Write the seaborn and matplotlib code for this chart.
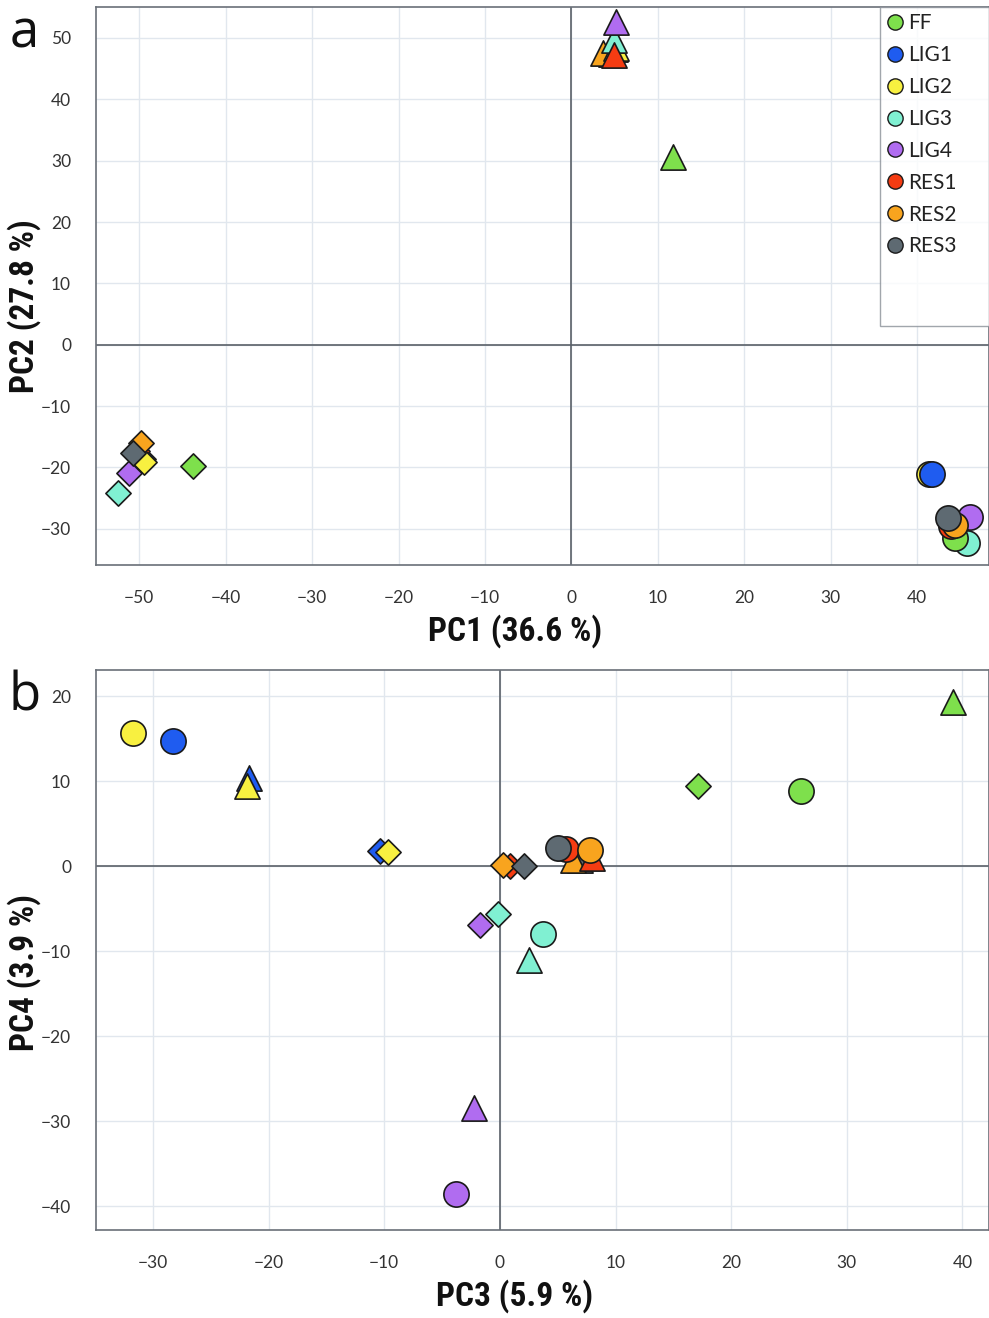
import numpy as np
import pandas as pd
import matplotlib
matplotlib.use("Agg")
import matplotlib.pyplot as plt
from matplotlib import font_manager
from matplotlib.lines import Line2D
import seaborn as sns

# groups and colours
groups = ["FF", "LIG1", "LIG2", "LIG3", "LIG4", "RES1", "RES2", "RES3"]
colors = ["#7ee04c", "#1f5cf0", "#f8f040", "#80f0d2", "#b06cf0", "#f53c12", "#f8a41e", "#5e6a72"]

# scores per shape (diamond / triangle / circle), one value per group
pc1_diamond = [-43.75, -49.6, -49.4, -52.4, -51.2, -50.3, -49.8, -50.7]
pc2_diamond = [-19.8, -18.6, -19.1, -24.1, -20.9, -17.3, -16.0, -17.6]
pc3_diamond = [17.1, -10.4, -9.7, -0.2, -1.7, 0.9, 0.3, 2.1]
pc4_diamond = [9.4, 1.8, 1.6, -5.6, -6.9, 0.0, 0.1, 0.0]

pc1_triangle = [11.7, 5.0, 5.1, 4.9, 5.2, 4.9, 3.7, 4.6]
pc2_triangle = [30.6, 48.2, 48.4, 49.7, 52.6, 47.3, 47.6, 47.4]
pc3_triangle = [39.2, -21.7, -21.9, 2.5, -2.2, 8.0, 6.3, 6.9]
pc4_triangle = [19.3, 10.4, 9.4, -11.1, -28.4, 0.9, 0.7, 0.7]

pc1_circle = [44.4, 41.7, 41.4, 45.8, 46.1, 43.9, 44.4, 43.6]
pc2_circle = [-31.5, -21.0, -21.0, -32.3, -28.1, -29.6, -29.3, -28.3]
pc3_circle = [26.0, -28.3, -31.7, 3.7, -3.8, 5.7, 7.8, 5.0]
pc4_circle = [8.8, 14.7, 15.6, -8.0, -38.6, 2.0, 1.9, 2.1]

# drawing order (first = bottom) within each shape
order_diamond = ["LIG1", "RES1", "LIG3", "LIG2", "LIG4", "FF", "RES2", "RES3"]
order_triangle = ["LIG1", "RES3", "FF", "RES2", "LIG2", "LIG3", "LIG4", "RES1"]
order_circle = ["LIG3", "FF", "LIG2", "LIG1", "RES1", "LIG4", "RES2", "RES3"]

frames = []
for shape, a, b, c, d, order in [
    ("diamond", pc1_diamond, pc2_diamond, pc3_diamond, pc4_diamond, order_diamond),
    ("triangle", pc1_triangle, pc2_triangle, pc3_triangle, pc4_triangle, order_triangle),
    ("circle", pc1_circle, pc2_circle, pc3_circle, pc4_circle, order_circle),
]:
    f = pd.DataFrame({"group": groups, "shape": shape,
                      "PC1": a, "PC2": b, "PC3": c, "PC4": d})
    f["rank"] = f["group"].map({g: i for i, g in enumerate(order)})
    frames.append(f.sort_values("rank"))
df = pd.concat(frames, ignore_index=True)

palette = dict(zip(groups, colors))
marker_of = {"diamond": "D", "triangle": "^", "circle": "o"}
size_of = {"diamond": 165, "triangle": 330, "circle": 330}

sns.set_theme(style="white")
names = {f.name for f in font_manager.fontManager.ttflist}
tick_font = "Lato" if "Lato" in names else "DejaVu Sans"
if "Roboto Condensed" in names:
    label_font = "Roboto Condensed"
elif "Roboto" in names:
    label_font = "Roboto"
else:
    label_font = "DejaVu Sans"
plt.rcParams["font.family"] = [tick_font, "DejaVu Sans"]

fig = plt.figure(figsize=(9.89, 13.18), dpi=100)
ax_a = fig.add_axes([96 / 989, 1 - 565 / 1318, 1 - 96 / 989, (565 - 7) / 1318])
ax_b = fig.add_axes([96 / 989, 1 - 1230 / 1318, 1 - 96 / 989, (1230 - 670) / 1318])

panels = [
    (ax_a, "PC1", "PC2", "PC1 (36.6 %)", "PC2 (27.8 %)", (-55.0, 48.3), (-35.9, 55.05),
     np.arange(-50, 50, 10), np.arange(-30, 60, 10), "a", 0.464),
    (ax_b, "PC3", "PC4", "PC3 (5.9 %)", "PC4 (3.9 %)", (-34.93, 42.3), (-42.8, 23.06),
     np.arange(-30, 50, 10), np.arange(-40, 30, 10), "b", 0.459),
]

for ax, xc, yc, xl, yl, xlim, ylim, xt, yt, letter, ylab_y in panels:
    ax.axhline(0, color="#5a6068", lw=1.2, zorder=1.5)
    ax.axvline(0, color="#5a6068", lw=1.2, zorder=1.5)
    for shape in ["diamond", "triangle", "circle"]:
        sub = df[df["shape"] == shape]
        for _, row in sub.iterrows():
            sns.scatterplot(x=[row[xc]], y=[row[yc]], color=palette[row["group"]],
                            marker=marker_of[shape], s=size_of[shape],
                            edgecolor="#1a1a1a", linewidth=1.2, legend=False,
                            ax=ax, zorder=3)
    ax.set_xlim(*xlim)
    ax.set_ylim(*ylim)
    ax.set_xticks(xt)
    ax.set_yticks(yt)
    ax.set_xticklabels([str(v).replace("-", "\u2212") for v in xt])
    ax.set_yticklabels([str(v).replace("-", "\u2212") for v in yt])
    ax.grid(True, color="#e1e7ee", lw=1.0, zorder=0)
    ax.set_axisbelow(True)
    ax.tick_params(axis="both", length=10, width=1, color="#dde3ea",
                   labelcolor="#333333", labelsize=12.5, pad=8)
    for sp in ax.spines.values():
        sp.set_color("#6a7078")
        sp.set_linewidth(1.2)
    ax.set_xlabel(xl, fontsize=24, fontweight="bold",
                  family=[label_font, "DejaVu Sans"], color="#111111", labelpad=6)
    ax.set_ylabel(yl, fontsize=24, fontweight="bold",
                  family=[label_font, "DejaVu Sans"], color="#111111", labelpad=-0.5)
    ax.xaxis.label.set_x(0.469)
    ax.yaxis.label.set_y(ylab_y)
    ax.text(-0.08, 1.0, letter, transform=ax.transAxes, fontsize=38,
            family=["Open Sans", "DejaVu Sans"], ha="center", va="top", color="#111111")

handles = [Line2D([0], [0], marker="o", ls="", markersize=11, markerfacecolor=c,
                  markeredgecolor="#1a1a1a", markeredgewidth=1.0) for c in colors]
handles += [Line2D([0], [0], ls="", marker=None)] * 2
labels = groups + ["", ""]
leg = ax_a.legend(handles, labels, loc="upper left", mode="expand",
                  bbox_to_anchor=((880 - 96) / 893, 0.0, 0.16, 1.0),
                  fontsize=15, frameon=True, fancybox=False, borderpad=0.3,
                  labelspacing=0.57, handletextpad=0.25, handlelength=0.8,
                  borderaxespad=0.0)
leg.get_frame().set_edgecolor("#8a9098")
leg.get_frame().set_linewidth(1.0)
for t in leg.get_texts():
    t.set_color("#222222")

fig.savefig("out.png", dpi=100)
